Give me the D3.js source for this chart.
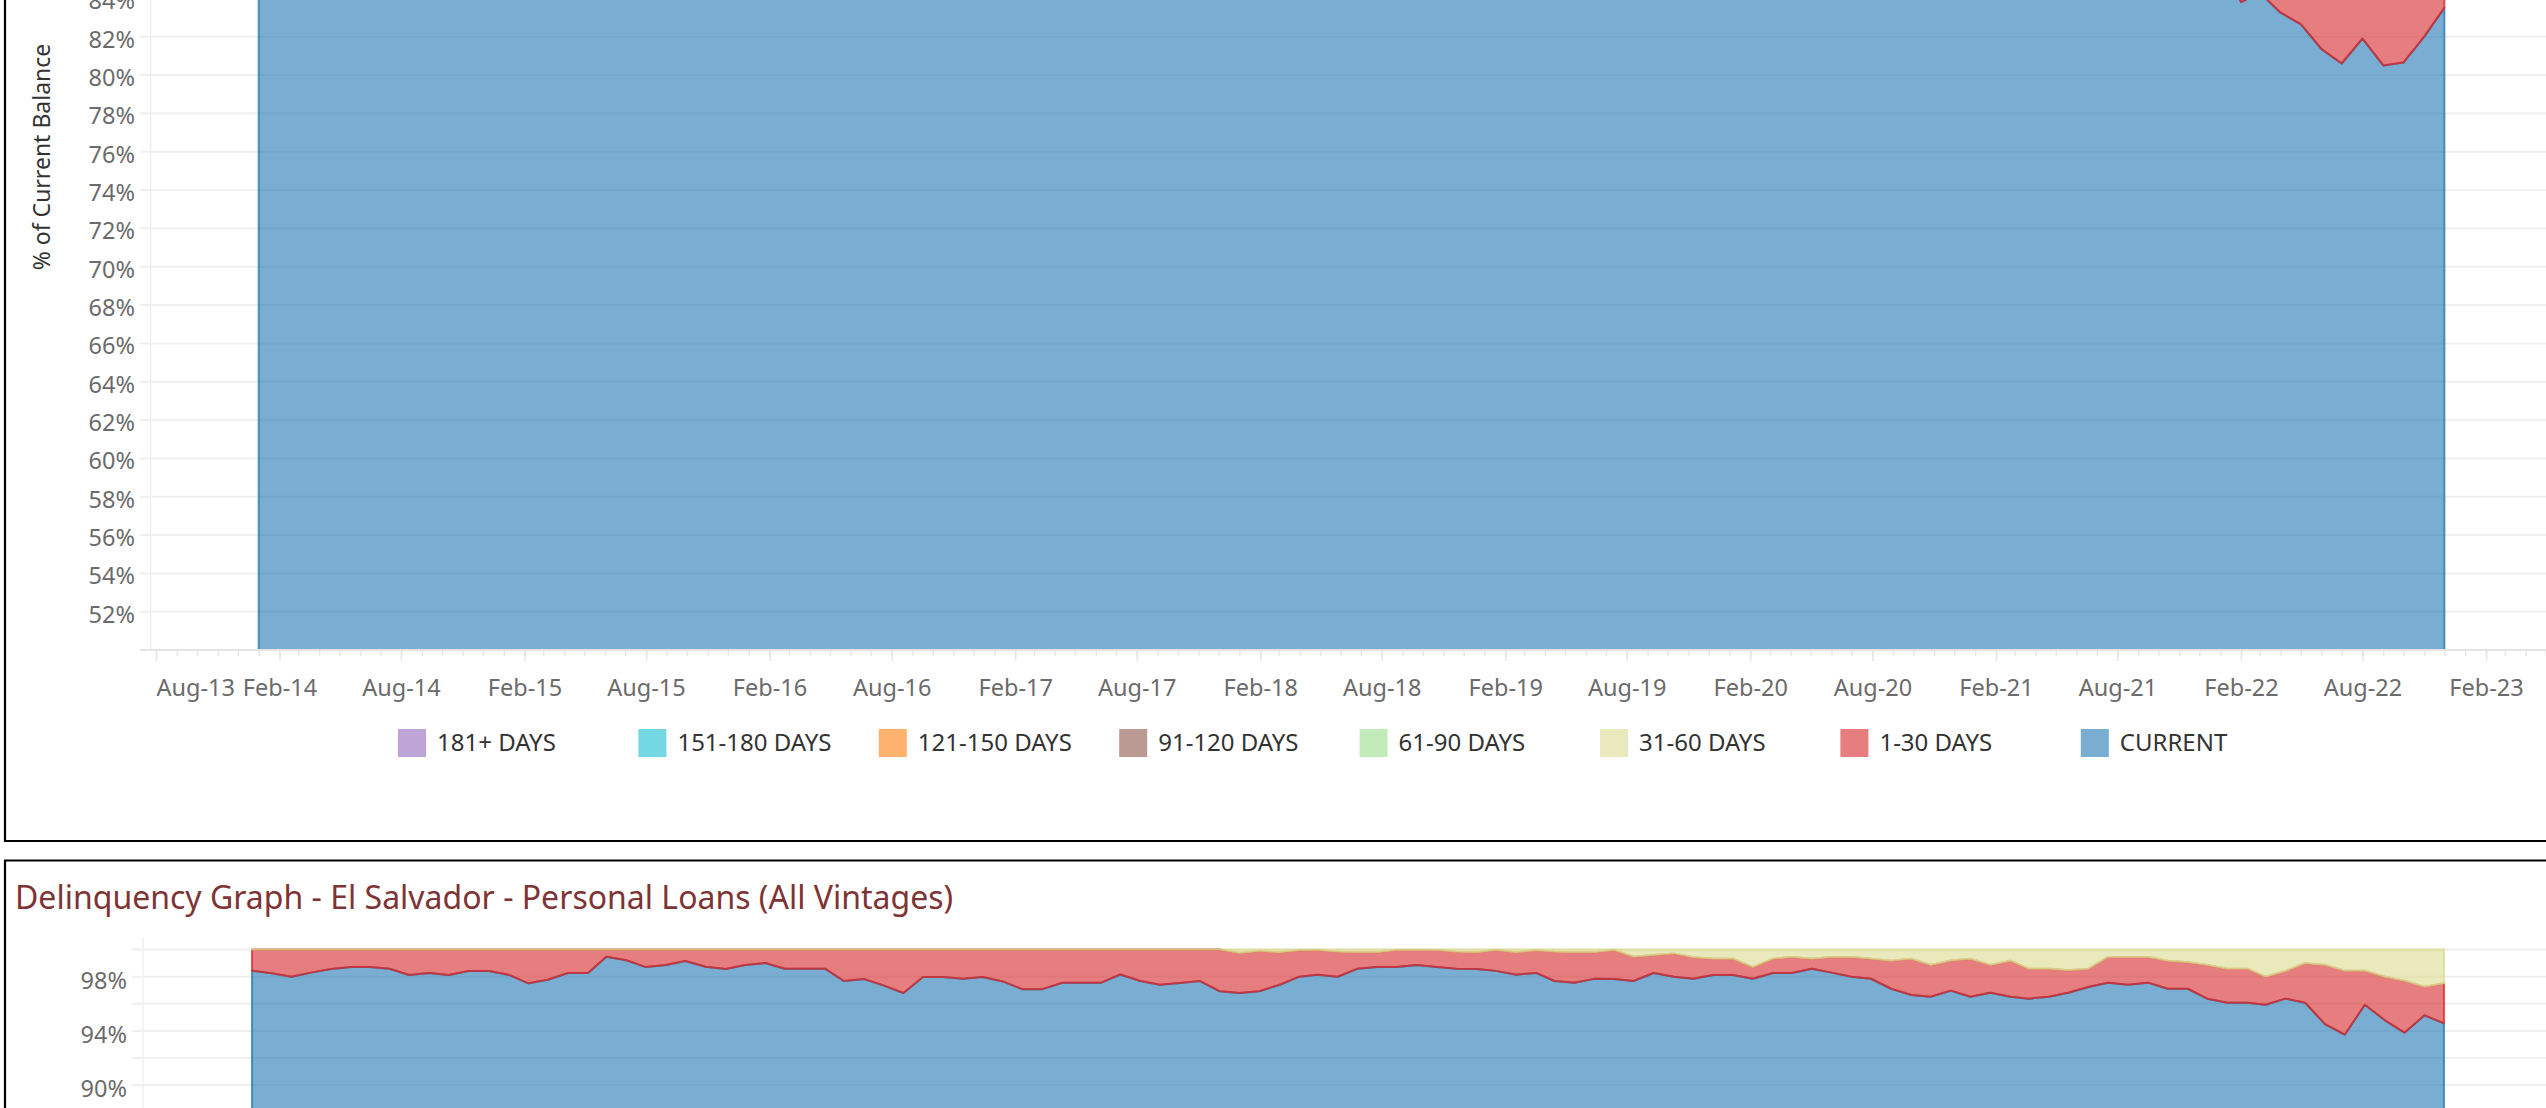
<!DOCTYPE html>
<meta charset="utf-8">
<style>
body { margin: 0; background: #fff; overflow: hidden; }
svg text { font-family: "Noto Sans", sans-serif; }
</style>
<body>
<script src="https://cdn.jsdelivr.net/npm/d3@7"></script>
<script>

var WIDTH = 2546;
var HEIGHT = 1108;

// legend categories, in legend order, with the Tableau colours
var categories = ['181+ DAYS', '151-180 DAYS', '121-150 DAYS', '91-120 DAYS',
                  '61-90 DAYS', '31-60 DAYS', '1-30 DAYS', 'CURRENT'];
var catColors = ['#9467bd', '#17becf', '#ff7f0e', '#8c564b',
                 '#98df8a', '#dbdb8d', '#d62728', '#1f77b4'];

// upper sheet: monthly, Jan-2014 .. Dec-2022 (% of current balance)
var topFirstMonth = new Date(2014, 0, 1);
var topCurrent = [
  96.8, 96.5, 96.9, 97.2, 97.0, 96.7, 96.9, 97.3, 97.1, 96.8, 96.6, 96.9,
  97.1, 97.4, 97.2, 96.9, 97.0, 97.3, 97.5, 97.2, 97.0, 96.8, 97.1, 97.3,
  97.0, 96.7, 96.9, 97.2, 97.4, 97.1, 96.8, 96.6, 96.9, 97.2, 97.0, 96.8,
  96.5, 96.7, 97.0, 97.2, 96.9, 96.6, 96.4, 96.7, 97.0, 96.8, 96.5, 96.7,
  96.9, 97.1, 96.8, 96.6, 96.3, 96.5, 96.8, 96.6, 96.3, 96.1, 96.4, 96.6,
  96.4, 96.2, 96.5, 96.7, 96.4, 96.1, 95.9, 96.2, 96.4, 96.1, 95.8, 96.0,
  95.7, 95.9, 95.4, 94.6, 94.9, 95.3, 95.6, 95.2, 94.8, 95.1, 95.4, 95.0,
  94.6, 94.8, 95.1, 94.7, 94.3, 94.0, 93.6, 93.2, 92.5, 91.4, 89.8, 88.0,
  86.1, 83.8, 84.3, 83.25, 82.65, 81.35, 80.6, 81.9, 80.5, 80.65, 82.0, 83.5];
var topDpd1to30 = [
  3.2, 3.5, 3.1, 2.8, 3.0, 3.3, 3.1, 2.7, 2.9, 3.2, 3.4, 3.1,
  2.9, 2.6, 2.8, 3.1, 3.0, 2.7, 2.5, 2.8, 3.0, 3.2, 2.9, 2.7,
  3.0, 3.3, 3.1, 2.8, 2.6, 2.9, 3.2, 3.4, 3.1, 2.8, 3.0, 3.2,
  3.5, 3.3, 3.0, 2.8, 3.1, 3.4, 3.6, 3.3, 3.0, 3.2, 3.5, 3.3,
  3.1, 2.9, 3.2, 3.4, 3.7, 3.5, 3.2, 3.4, 3.7, 3.9, 3.6, 3.4,
  3.6, 3.8, 3.5, 3.3, 3.6, 3.9, 4.1, 3.8, 3.6, 3.9, 4.2, 4.0,
  4.3, 4.1, 4.6, 5.4, 5.1, 4.7, 4.4, 4.8, 5.2, 4.9, 4.6, 5.0,
  5.4, 5.2, 4.9, 5.3, 5.7, 6.0, 6.4, 6.8, 7.5, 8.6, 10.2, 12.0,
  13.9, 16.2, 15.7, 16.75, 17.35, 18.65, 19.4, 18.1, 19.5, 19.35, 18.0, 16.5];

// El Salvador - Personal Loans: monthly, Sep-2013 .. Dec-2022
var elsFirstMonth = new Date(2013, 8, 1);
var elsCurrent = [
  98.44, 98.25, 98.0, 98.3, 98.57, 98.71, 98.71, 98.59, 98.12, 98.27, 98.12, 98.42,
  98.42, 98.15, 97.51, 97.78, 98.27, 98.27, 99.48, 99.21, 98.71, 98.86, 99.16, 98.74,
  98.57, 98.86, 99.01, 98.59, 98.59, 98.59, 97.68, 97.83, 97.36, 96.8, 97.98, 97.98,
  97.84, 97.98, 97.65, 97.08, 97.08, 97.55, 97.55, 97.55, 98.16, 97.68, 97.4, 97.53,
  97.68, 96.93, 96.8, 96.93, 97.39, 98.0, 98.15, 98.0, 98.58, 98.72, 98.72, 98.87,
  98.72, 98.58, 98.57, 98.43, 98.15, 98.28, 97.68, 97.56, 97.84, 97.83, 97.68, 98.27,
  98.0, 97.85, 98.12, 98.12, 97.85, 98.27, 98.27, 98.59, 98.3, 98.0, 97.85, 97.11,
  96.65, 96.52, 96.97, 96.52, 96.82, 96.52, 96.38, 96.52, 96.82, 97.24, 97.56, 97.41,
  97.56, 97.11, 97.11, 96.38, 96.08, 96.08, 95.93, 96.38, 96.08, 94.48, 93.72, 95.93,
  94.78, 93.87, 95.15, 94.56];
var elsDpd1to30 = [
  1.56, 1.75, 2.0, 1.7, 1.43, 1.29, 1.29, 1.41, 1.88, 1.73, 1.88, 1.58,
  1.58, 1.85, 2.49, 2.22, 1.73, 1.73, 0.52, 0.79, 1.29, 1.14, 0.84, 1.26,
  1.43, 1.14, 0.99, 1.41, 1.41, 1.41, 2.32, 2.17, 2.64, 3.2, 2.02, 2.02,
  2.16, 2.02, 2.35, 2.92, 2.92, 2.45, 2.45, 2.45, 1.84, 2.32, 2.6, 2.47,
  2.32, 3.07, 2.95, 2.97, 2.41, 1.95, 1.82, 1.85, 1.22, 1.08, 1.25, 1.1,
  1.25, 1.27, 1.23, 1.54, 1.65, 1.67, 2.17, 2.24, 1.96, 2.14, 1.8, 1.33,
  1.72, 1.58, 1.21, 1.21, 0.86, 1.06, 1.18, 0.74, 1.15, 1.45, 1.48, 2.07,
  2.68, 2.34, 2.23, 2.81, 2.04, 2.66, 2.21, 2.07, 1.65, 1.35, 1.89, 2.04,
  1.89, 2.07, 1.95, 2.48, 2.51, 2.51, 2.07, 2.04, 2.92, 4.38, 4.72, 2.51,
  3.22, 3.83, 2.11, 2.95];
var elsDpd31to60 = [
  0, 0, 0, 0, 0, 0, 0, 0, 0, 0, 0, 0,
  0, 0, 0, 0, 0, 0, 0, 0, 0, 0, 0, 0,
  0, 0, 0, 0, 0, 0, 0, 0, 0, 0, 0, 0,
  0, 0, 0, 0, 0, 0, 0, 0, 0, 0, 0, 0,
  0, 0, 0.25, 0.1, 0.2, 0.05, 0.03, 0.15, 0.2, 0.2, 0.03, 0.03,
  0.03, 0.15, 0.2, 0.03, 0.2, 0.05, 0.15, 0.2, 0.2, 0.03, 0.52, 0.4,
  0.28, 0.57, 0.67, 0.67, 1.29, 0.67, 0.55, 0.67, 0.55, 0.55, 0.67, 0.82,
  0.67, 1.14, 0.8, 0.67, 1.14, 0.82, 1.41, 1.41, 1.53, 1.41, 0.55, 0.55,
  0.55, 0.82, 0.94, 1.14, 1.41, 1.41, 2.0, 1.58, 1.0, 1.14, 1.56, 1.56,
  2.0, 2.3, 2.74, 2.49];

var topGridTicks = [52, 54, 56, 58, 60, 62, 64, 66, 68, 70, 72, 74, 76, 78, 80, 82, 84, 86];
var topYLabels = [52, 54, 56, 58, 60, 62, 64, 66, 68, 70, 72, 74, 76, 78, 80, 82, 84];
var elsGridTicks = [88, 90, 92, 94, 96, 98, 100];
var elsYLabels = [90, 94, 98];

var svg = d3.select('body').append('svg')
    .attr('width', WIDTH)
    .attr('height', HEIGHT);

function buildRows(first, series) {
  return series[0].values.map(function(v, i) {
    var row = {date: d3.timeMonth.offset(first, i)};
    series.forEach(function(s) { row[s.key] = s.values[i]; });
    return row;
  });
}

function colorOf(key) {
  return catColors[categories.indexOf(key)];
}

function drawAreas(g, rows, keys, x, y) {
  var stack = d3.stack().keys(keys);
  var layers = stack(rows);
  var area = d3.area()
      .x(function(d) { return x(d.data.date); })
      .y0(function(d) { return y(d[0]); })
      .y1(function(d) { return y(d[1]); });
  g.selectAll('path.band')
    .data(layers)
    .enter().append('path')
      .attr('class', 'band')
      .attr('d', area)
      .attr('fill', function(d) { return colorOf(d.key); })
      .attr('fill-opacity', 0.6)
      .attr('stroke', function(d) { return colorOf(d.key); })
      .attr('stroke-opacity', 0.75)
      .attr('stroke-width', 2)
      .attr('stroke-linejoin', 'round');
}

// ---------- upper sheet ----------
var xTop = d3.scaleTime()
    .domain([new Date(2013, 7, 1), new Date(2023, 1, 1)])
    .range([156, 2486]);
var yTop = d3.scaleLinear()
    .domain([50, 100])
    .range([650.1, 650.1 - 50 * 19.17]);

var topRows = buildRows(topFirstMonth, [
  {key: 'CURRENT', values: topCurrent},
  {key: '1-30 DAYS', values: topDpd1to30}]);

svg.append('clipPath').attr('id', 'clipTop')
  .append('rect')
    .attr('x', 150).attr('y', -400)
    .attr('width', WIDTH).attr('height', 650 + 400);

var gTop = svg.append('g');

gTop.selectAll('line.grid')
  .data(topGridTicks)
  .enter().append('line')
    .attr('class', 'grid')
    .attr('x1', 140).attr('x2', WIDTH)
    .attr('y1', yTop).attr('y2', yTop)
    .attr('stroke', '#efefef')
    .attr('stroke-width', 2);

gTop.append('line')
    .attr('x1', 150.7).attr('x2', 150.7)
    .attr('y1', 0).attr('y2', 650)
    .attr('stroke', '#f0f0f0')
    .attr('stroke-width', 1.5);

drawAreas(gTop.append('g').attr('clip-path', 'url(#clipTop)'),
          topRows, ['CURRENT', '1-30 DAYS'], xTop, yTop);

var yAxisTop = d3.axisLeft(yTop)
    .tickValues(topYLabels)
    .tickSize(0)
    .tickPadding(0)
    .tickFormat(function(d) { return d + '%'; });
var yAxisTopG = gTop.append('g')
    .attr('transform', 'translate(135,0)')
    .call(yAxisTop);
yAxisTopG.select('.domain').remove();
yAxisTopG.selectAll('text')
    .attr('dy', '0.45em')
    .attr('fill', '#6b6b6b')
    .style('font-size', '23.5px');

// axis line and month ticks
gTop.append('line')
    .attr('x1', 140).attr('x2', WIDTH)
    .attr('y1', 650).attr('y2', 650)
    .attr('stroke', '#e4e4e4')
    .attr('stroke-width', 2);

var minorTicks = d3.axisBottom(xTop)
    .tickValues(d3.timeMonth.range(new Date(2013, 7, 1), new Date(2023, 6, 1)))
    .tickSize(5)
    .tickFormat('');
var minorG = gTop.append('g')
    .attr('transform', 'translate(0,651)')
    .call(minorTicks);
minorG.select('.domain').remove();
minorG.selectAll('line').attr('stroke', '#e6e6e6').attr('stroke-width', 1.5);

// Aug / Feb labels, every 6 months from Aug-13
var labelDates = d3.timeMonth.range(new Date(2013, 7, 1), new Date(2023, 2, 1), 6);
var xAxisTop = d3.axisBottom(xTop)
    .tickValues(labelDates)
    .tickSize(10)
    .tickPadding(18)
    .tickFormat(d3.timeFormat('%b-%y'));
var xAxisTopG = gTop.append('g')
    .attr('transform', 'translate(0,651)')
    .call(xAxisTop);
xAxisTopG.select('.domain').remove();
xAxisTopG.selectAll('line').attr('stroke', '#e6e6e6').attr('stroke-width', 1.5);
xAxisTopG.selectAll('text')
    .attr('fill', '#6b6b6b')
    .style('font-size', '23.5px')
    .attr('text-anchor', function(d, i) { return i === 0 ? 'start' : 'middle'; });

gTop.append('text')
    .attr('transform', 'translate(50,157) rotate(-90)')
    .attr('text-anchor', 'middle')
    .attr('fill', '#333')
    .style('font-size', '23px')
    .text('% of Current Balance');

// legend
var legend = gTop.selectAll('g.legend')
  .data(categories)
  .enter().append('g')
    .attr('class', 'legend')
    .attr('transform', function(d, i) { return 'translate(' + (398 + i * 240.4) + ',729)'; });
legend.append('rect')
    .attr('width', 28).attr('height', 28)
    .attr('fill', function(d, i) { return catColors[i]; })
    .attr('fill-opacity', 0.6);
legend.append('text')
    .attr('x', 39).attr('y', 22)
    .attr('fill', '#333')
    .style('font-size', '24px')
    .text(function(d) { return d; });

// ---------- panel borders ----------
svg.append('line')
    .attr('x1', 5).attr('x2', 5).attr('y1', 0).attr('y2', 842)
    .attr('stroke', '#000').attr('stroke-width', 2.2);
svg.append('line')
    .attr('x1', 4).attr('x2', WIDTH).attr('y1', 841).attr('y2', 841)
    .attr('stroke', '#000').attr('stroke-width', 2.2);
svg.append('line')
    .attr('x1', 4).attr('x2', WIDTH).attr('y1', 860.5).attr('y2', 860.5)
    .attr('stroke', '#000').attr('stroke-width', 2.2);
svg.append('line')
    .attr('x1', 5).attr('x2', 5).attr('y1', 860).attr('y2', HEIGHT)
    .attr('stroke', '#000').attr('stroke-width', 2.2);

// ---------- El Salvador sheet ----------
svg.append('text')
    .attr('x', 15).attr('y', 909)
    .attr('fill', '#7e3434')
    .style('font-size', '32px')
    .text('Delinquency Graph - El Salvador - Personal Loans (All Vintages)');

var xEls = d3.scaleTime()
    .domain([elsFirstMonth, new Date(2022, 11, 1)])
    .range([252, 2444]);
var yEls = d3.scaleLinear()
    .domain([0, 100])
    .range([976.7 + 98 * 13.55, 976.7 - 2 * 13.55]);

var elsRows = buildRows(elsFirstMonth, [
  {key: 'CURRENT', values: elsCurrent},
  {key: '1-30 DAYS', values: elsDpd1to30},
  {key: '31-60 DAYS', values: elsDpd31to60}]);

svg.append('clipPath').attr('id', 'clipEls')
  .append('rect')
    .attr('x', 143).attr('y', 937)
    .attr('width', WIDTH).attr('height', 300);

var gEls = svg.append('g');

gEls.selectAll('line.grid')
  .data(elsGridTicks)
  .enter().append('line')
    .attr('class', 'grid')
    .attr('x1', 132).attr('x2', WIDTH)
    .attr('y1', yEls).attr('y2', yEls)
    .attr('stroke', '#efefef')
    .attr('stroke-width', 2);

gEls.append('line')
    .attr('x1', 143).attr('x2', 143)
    .attr('y1', 937).attr('y2', HEIGHT)
    .attr('stroke', '#f0f0f0')
    .attr('stroke-width', 1.5);

drawAreas(gEls.append('g').attr('clip-path', 'url(#clipEls)'),
          elsRows, ['CURRENT', '1-30 DAYS', '31-60 DAYS'], xEls, yEls);

var yAxisEls = d3.axisLeft(yEls)
    .tickValues(elsYLabels)
    .tickSize(0)
    .tickPadding(0)
    .tickFormat(function(d) { return d + '%'; });
var yAxisElsG = gEls.append('g')
    .attr('transform', 'translate(127,0)')
    .call(yAxisEls);
yAxisElsG.select('.domain').remove();
yAxisElsG.selectAll('text')
    .attr('dy', '0.5em')
    .attr('fill', '#6b6b6b')
    .style('font-size', '23.5px')
;

</script>
